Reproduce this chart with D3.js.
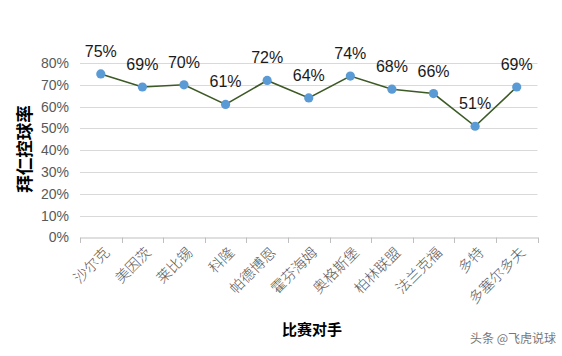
<!DOCTYPE html>
<html><head><meta charset="utf-8">
<script src="https://cdn.jsdelivr.net/npm/d3@7"></script>
<style>body{margin:0;background:#fff}svg{display:block}</style>
</head><body>
<script>
const categories = ["沙尔克","美因茨","莱比锡","科隆","帕德博恩","霍芬海姆","奥格斯堡","柏林联盟","法兰克福","多特","多塞尔多夫"];
const values = [75,69,70,61,72,64,74,68,66,51,69];
const yTicks = [0,10,20,30,40,50,60,70,80];
const yTitle = "拜仁控球率";
const xTitle = "比赛对手";
const watermark = "头条 @飞虎说球";

const W=562,H=356;
const svg=d3.select("body").append("svg").attr("width",W).attr("height",H);
const x=d3.scaleBand().domain(categories).range([80,537.5]);
const y=d3.scaleLinear().domain([0,80]).range([237.5,63]);

svg.append("g").selectAll("line").data(yTicks.slice(1)).join("line")
 .attr("x1",80).attr("x2",537.5).attr("y1",d=>Math.round(y(d))+0.5).attr("y2",d=>Math.round(y(d))+0.5)
 .attr("stroke","#d9d9d9");

const yAxis=svg.append("g").attr("transform","translate(80,0)")
 .call(d3.axisLeft(y).tickValues(yTicks).tickFormat(d=>d+"%").tickSize(0).tickPadding(11));
yAxis.select(".domain").remove();
yAxis.selectAll("text").attr("fill","#595959").style("font-family","Liberation Sans, Arial, sans-serif").style("font-size","14px");

const xAxis=svg.append("g").attr("transform","translate(0,237.5)")
 .call(d3.axisBottom(x).tickSize(0).tickFormat(""));
xAxis.select(".domain").attr("stroke","#bfbfbf");
const edges=categories.map(c=>x(c)).concat([x.range()[1]]);
svg.append("g").selectAll("line").data(edges).join("line")
 .attr("x1",d=>Math.round(d)+0.5).attr("x2",d=>Math.round(d)+0.5).attr("y1",237.5).attr("y2",243)
 .attr("stroke","#bfbfbf");

svg.append("g").selectAll("text").data(categories).join("text")
 .attr("transform",d=>`translate(${x(d)+x.bandwidth()/2+6},${250}) rotate(-45)`)
 .attr("text-anchor","end").attr("dy","0.35em")
 .attr("fill","#595959").style("font-family","Noto Sans CJK SC, sans-serif").style("font-size","14.5px").style("font-weight","300")
 .text(d=>d);

const cx=d=>x(d)+x.bandwidth()/2;
const line=d3.line().x((d,i)=>cx(categories[i])).y(d=>y(d));
svg.append("path").datum(values).attr("d",line).attr("fill","none").attr("stroke","#3d5a26").attr("stroke-width",1.6);
svg.append("g").selectAll("circle").data(values).join("circle")
 .attr("cx",(d,i)=>cx(categories[i])).attr("cy",d=>y(d)).attr("r",4.6).attr("fill","#5b9bd5");
svg.append("g").selectAll("text").data(values).join("text")
 .attr("x",(d,i)=>cx(categories[i])).attr("y",d=>y(d)-17)
 .attr("text-anchor","middle").attr("fill","#1a1a1a")
 .style("font-family","Liberation Sans, Arial, sans-serif").style("font-size","16px")
 .text(d=>d+"%");

svg.append("text").attr("transform","translate(31,149) rotate(-90)").attr("text-anchor","middle")
 .style("font-family","Noto Sans CJK SC, sans-serif").style("font-size","17.5px").style("font-weight","bold").attr("fill","#000").text(yTitle);
svg.append("text").attr("x",312).attr("y",335).attr("text-anchor","middle")
 .style("font-family","Noto Sans CJK SC, sans-serif").style("font-size","15px").style("font-weight","bold").attr("fill","#000").text(xTitle);
svg.append("text").attr("x",556).attr("y",343).attr("text-anchor","end")
 .style("font-family","Noto Sans CJK SC, sans-serif").style("font-size","12px").attr("fill","#777").text(watermark);
</script>
</body></html>
